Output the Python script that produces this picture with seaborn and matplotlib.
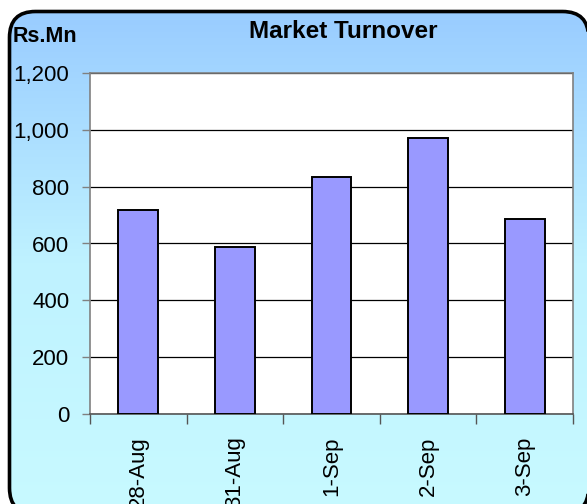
import numpy as np
import pandas as pd
import matplotlib
matplotlib.use("Agg")
import matplotlib.pyplot as plt
import seaborn as sns
from matplotlib.patches import FancyBboxPatch, Polygon
from matplotlib.colors import LinearSegmentedColormap
from matplotlib.ticker import FuncFormatter, FixedLocator

categories = ["28-Aug", "31-Aug", "1-Sep", "2-Sep", "3-Sep"]
turnover = [718, 587, 834, 971, 685]
y_ticks = [0, 200, 400, 600, 800, 1000, 1200]

sns.set_theme(style="white")
plt.rcParams['font.family'] = ['Liberation Sans', 'DejaVu Sans']

W, H = 587, 504
fig = plt.figure(figsize=(W / 100, H / 100), dpi=100)
fig.patch.set_facecolor("white")

# background rounded box with gradient (pixel coords, y up)
bg = fig.add_axes([0, 0, 1, 1], zorder=0)
bg.set_xlim(0, W)
bg.set_ylim(0, H)
bx0, bx1 = 9.5, 588.5
btop = H - 11.5
bbot = -10.0
tmp = FancyBboxPatch((bx0, bbot), bx1 - bx0, btop - bbot,
                     boxstyle="round,pad=0,rounding_size=26")
poly = tmp.get_path().to_polygons(closed_only=True)[0]
box = Polygon(poly, closed=True, facecolor="none", edgecolor="black",
              linewidth=2.6, zorder=3, transform=bg.transData)
bg.add_patch(box)
cmap = LinearSegmentedColormap.from_list("g", ["#C8FAFF", "#BFF2FF", "#99CCFF"])
grad = np.linspace(0, 1, 256).reshape(-1, 1)
im = bg.imshow(grad, cmap=cmap, origin="lower", extent=[bx0, bx1, bbot, btop],
               aspect="auto", zorder=1)
im.set_clip_path(box)
bg.set_xlim(0, W)
bg.set_ylim(0, H)
bg.axis("off")

ax = fig.add_axes([90 / W, (H - 414) / H, (573 - 90) / W, (414 - 73) / H], zorder=2)
df = pd.DataFrame({"date": categories, "value": turnover})
sns.barplot(data=df, x="date", y="value", ax=ax, color="#9999FF",
            saturation=1, width=0.41, edgecolor="black", linewidth=1.4, zorder=3)
ax.set_facecolor("white")
ax.set_xlim(-0.5, len(categories) - 0.5)
ax.set_ylim(0, 1200)
ax.yaxis.set_major_locator(FixedLocator(y_ticks))
ax.yaxis.set_major_formatter(FuncFormatter(lambda v, p: f"{int(v):,}"))
ax.grid(axis="y", color="black", linewidth=0.9, zorder=0)
ax.set_axisbelow(True)
for s in ax.spines.values():
    s.set_color("#808080")
    s.set_linewidth(1.2)
ax.spines["bottom"].set_color("#555555")
ax.set_xlabel("")
ax.set_ylabel("")
ax.tick_params(axis="y", which="major", direction="out", length=6, width=1,
               color="#808080", left=True, labelsize=16, labelcolor="black", pad=9)
ax.set_xticks(range(len(categories)))
ax.set_xticklabels(categories, rotation=90, ha="center", va="top")
ax.tick_params(axis="x", which="major", length=0, labelsize=16, labelcolor="black", pad=16)
ax.set_xticks(np.arange(-0.5, len(categories), 1.0), minor=True)
ax.tick_params(axis="x", which="minor", direction="out", length=7, width=1,
               color="#555555", bottom=True)

fig.text(343 / W, 1 - 32 / H, "Market Turnover", ha="center", va="center",
         fontsize=17.5, fontweight="bold", color="black")
fig.text(13 / W, 1 - 36 / H, "Rs.Mn", ha="left", va="center",
         fontsize=15.5, fontweight="bold", color="black")

fig.savefig("out.png", dpi=100)
